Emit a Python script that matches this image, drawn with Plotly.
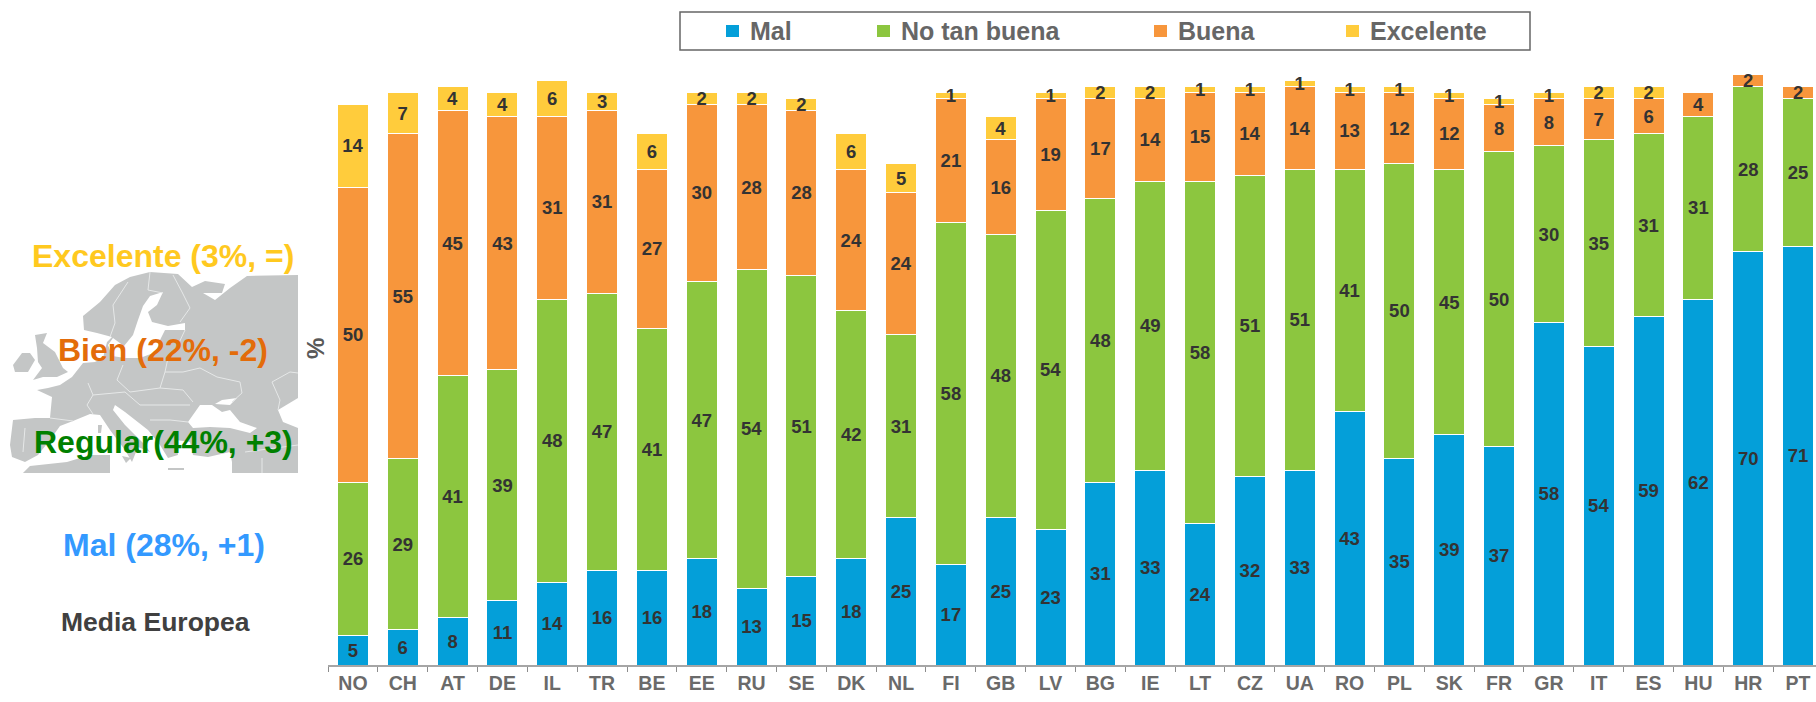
import plotly.graph_objects as go

countries = ["NO","CH","AT","DE","IL","TR","BE","EE","RU","SE","DK","NL","FI","GB","LV",
             "BG","IE","LT","CZ","UA","RO","PL","SK","FR","GR","IT","ES","HU","HR","PT"]
mal = [5,6,8,11,14,16,16,18,13,15,18,25,17,25,23,31,33,24,32,33,43,35,39,37,58,54,59,62,70,71]
no_tan_buena = [26,29,41,39,48,47,41,47,54,51,42,31,58,48,54,48,49,58,51,51,41,50,45,50,30,35,31,31,28,25]
buena = [50,55,45,43,31,31,27,30,28,28,24,24,21,16,19,17,14,15,14,14,13,12,12,8,8,7,6,4,2,2]
excelente = [14,7,4,4,6,3,6,2,2,2,6,5,1,4,1,2,2,1,1,1,1,1,1,1,1,2,2,None,None,None]

series_names = ["Mal", "No tan buena", "Buena", "Excelente"]
series_values = [mal, no_tan_buena, buena, excelente]
series_colors = ["#049FD9", "#8CC63F", "#F7963C", "#FFCC3C"]

side_labels = ["Excelente (3%, =)", "Bien (22%, -2)", "Regular(44%, +3)", "Mal (28%, +1)", "Media Europea"]
side_colors = ["#FFC91F", "#E36C0A", "#008000", "#3399FF", "#404040"]
side_y = [256, 350, 442, 545, 622]
side_x = [163, 163, 163, 164, 155]
side_size = [32, 32, 32, 32, 26.5]

# Decorative map silhouette (pixel outlines)
land = [
 [(84,330),(83,316),(100,302),(115,285),(130,277),(150,272),(178,274),(192,287),(205,281),(225,284),(222,293),(203,293),(215,300),(230,288),(247,276),(298,275),(298,473),(232,473),(232,462),(230,452),(208,457),(193,455),(190,442),(176,440),(178,455),(168,458),(160,445),(148,430),(125,412),(115,405),(113,410),(125,425),(145,445),(150,452),(138,447),(132,462),(125,450),(110,430),(100,415),(90,414),(73,421),(60,426),(50,440),(38,455),(25,462),(12,457),(10,445),(13,420),(35,418),(50,418),(52,397),(37,390),(48,388),(60,385),(72,377),(83,363),(95,362),(103,358),(107,342),(112,337),(97,333)],
 [(35,335),(47,333),(43,343),(55,352),(63,368),(68,372),(57,377),(43,377),(33,380),(42,368),(38,362),(37,348)],
 [(13,365),(22,353),(30,353),(35,360),(28,372),(15,372)],
 [(23,473),(30,466),(67,462),(90,455),(110,455),(110,473)],
 [(98,425),(102,425),(101,433),(98,433)],
 [(122,456),(131,458),(126,463)],
 [(168,468),(184,468),(184,470),(168,470)],
]
sea = [
 [(163,292),(150,296),(143,306),(138,320),(133,335),(124,346),(113,338),(108,345),(112,356),(125,358),(140,358),(156,352),(160,340),(165,330),(185,330),(185,323),(168,326),(152,322),(148,312),(157,305)],
 [(188,422),(200,405),(212,405),(222,412),(230,410),(240,422),(257,428),(250,433),(230,428),(210,427),(193,428)],
 [(298,398),(278,410),(283,422),(298,428)],
 [(215,404),(222,400),(237,398),(230,405)],
]
borders = [
 [(128,282),(113,305),(115,323),(110,337)],
 [(150,272),(148,290),(163,293)],
 [(173,275),(182,292),(190,308),(180,322)],
 [(185,330),(178,345),(168,358),(165,372)],
 [(165,372),(183,372),(200,368),(217,377),(240,382),(242,393),(232,402)],
 [(165,372),(160,388),(183,390),(193,402)],
 [(88,383),(93,395),(87,405),(93,414)],
 [(123,365),(117,380),(130,392),(160,388)],
 [(93,395),(125,392),(140,405),(160,405),(190,405)],
 [(272,382),(290,372),(298,373)],
 [(272,382),(280,400),(278,410)],
 [(50,418),(73,421)],
 [(25,428),(23,452)],
 [(150,420),(170,420),(188,422)],
 [(245,452),(298,445)],
 [(262,473),(262,458)],
]

LEFT, RIGHT, TOP, BOTTOM = 328, 1816, 33, 665
def px(x): return (x - LEFT) / (RIGHT - LEFT)
def py(y): return (BOTTOM - y) / (BOTTOM - TOP)
def path(points, close=True):
    d = "M " + " L ".join(f"{px(x):.5f},{py(y):.5f}" for x, y in points)
    return d + (" Z" if close else "")

fig = go.Figure()
for name, vals, color in zip(series_names, series_values, series_colors):
    fig.add_trace(go.Bar(
        x=countries, y=vals, name=name,
        marker=dict(color=color, line=dict(color="white", width=1)),
        text=vals, textposition="inside", insidetextanchor="middle",
        textangle=0, constraintext="none",
        textfont=dict(family="Liberation Sans", size=18.5, color="#333333", weight="bold"),
        cliponaxis=False, showlegend=False,
    ))

shapes = []
for p in land:
    shapes.append(dict(type="path", xref="paper", yref="paper", path=path(p),
                       fillcolor="#C4C6C6", line=dict(width=0), layer="below"))
for p in sea:
    shapes.append(dict(type="path", xref="paper", yref="paper", path=path(p),
                       fillcolor="white", line=dict(width=0), layer="below"))
for p in borders:
    shapes.append(dict(type="path", xref="paper", yref="paper", path=path(p, False),
                       line=dict(color="#E6E8E8", width=1), layer="below"))

annotations = []
for t, c, x, y, s in zip(side_labels, side_colors, side_x, side_y, side_size):
    annotations.append(dict(text=t, xref="paper", yref="paper", x=px(x), y=py(y),
                            showarrow=False, xanchor="center", yanchor="middle",
                            font=dict(family="Liberation Sans", size=s, color=c, weight="bold")))
annotations.append(dict(text="%", xref="paper", yref="paper", x=px(315), y=py(349), textangle=-90,
                        showarrow=False, xanchor="center", yanchor="middle",
                        font=dict(family="Liberation Sans", size=24, color="#595959", weight="bold")))

# Legend box
shapes.append(dict(type="rect", xref="paper", yref="paper", x0=px(680), x1=px(1530), y0=py(50), y1=py(12),
                   fillcolor="white", line=dict(color="#666666", width=1.5), layer="below"))
swatch_x = [726, 877, 1154, 1346]
for sx, name, color in zip(swatch_x, series_names, series_colors):
    shapes.append(dict(type="rect", xref="paper", yref="paper", x0=px(sx), x1=px(sx+13), y0=py(37), y1=py(25),
                       fillcolor=color, line=dict(width=0)))
    annotations.append(dict(text=name, xref="paper", yref="paper", x=px(sx+22), y=py(31),
                            showarrow=False, xanchor="left", yanchor="middle",
                            font=dict(family="Liberation Sans", size=25, color="#666666", weight="bold")))

fig.update_layout(
    width=1816, height=702, autosize=False,
    margin=dict(l=LEFT, r=0, t=TOP, b=702-BOTTOM, pad=0),
    paper_bgcolor="white", plot_bgcolor="rgba(0,0,0,0)",
    barmode="stack", bargap=0.38,
    shapes=shapes, annotations=annotations,
    xaxis=dict(type="category", categoryorder="array", categoryarray=countries,
               range=[-0.5, 29.36], tickson="boundaries", ticks="outside", ticklen=5, tickwidth=1,
               tickcolor="#8C8C8C", showline=True, linecolor="#A6A6A6", linewidth=2,
               showgrid=False, zeroline=False, automargin=False,
               tickfont=dict(family="Liberation Sans", size=19.5, color="#6A6A6A", weight="bold")),
    yaxis=dict(range=[0, 107.1], showticklabels=False, showgrid=False, zeroline=False,
               showline=False, ticks="", automargin=False),
)
fig.write_html("out.html", config={"displayModeBar": False},
               post_script="document.body.style.margin='0';document.documentElement.style.overflow='hidden';")
